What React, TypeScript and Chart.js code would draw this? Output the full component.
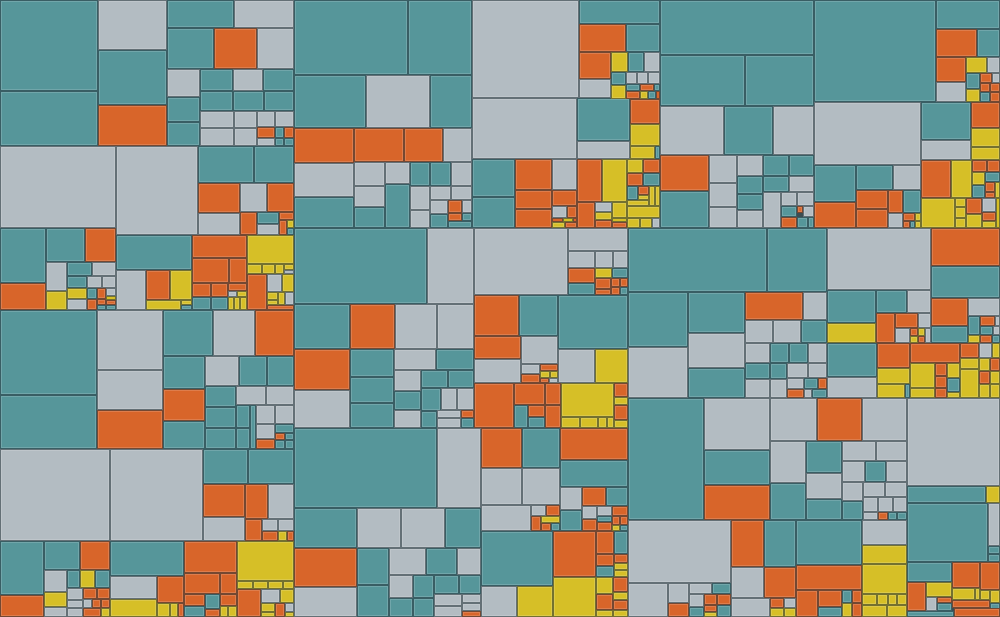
import { useEffect, useRef } from "react";
import { Chart, registerables } from "chart.js";

Chart.register(...registerables);

// colour index: 0 teal, 1 grey, 2 orange, 3 yellow
const T = 0, G = 1, O = 2, Y = 3;
const CATEGORY_NAMES = ["Teal", "Grey", "Orange", "Yellow"];
const PALETTE = ["#56969A", "#B3BCC2", "#D8652A", "#D6BF27"];

// cells: [x0, y0, x1, y1, colour] in data units (0..1000 × 0..617)
const leftColumnCells: number[][] = [
  [0,0,98,91,T],[0,91,98,146,T],[98,0,167,50,G],[98,50,167,105,T],[98,105,167,146,O],
  [167,0,234,28,T],[234,0,294,28,G],[167,28,214,69,T],[214,28,257,69,O],[257,28,294,69,G],
  [167,69,200,97,G],[167,97,200,122,T],[167,122,200,146,T],[200,69,233,91,T],[233,69,263,91,G],
  [263,69,294,91,T],[200,91,233,111,T],[233,91,264,111,T],[264,91,294,111,T],[200,111,234,128,G],
  [234,111,257,128,G],[257,111,275,127,G],[275,111,294,127,G],[200,128,234,146,G],[234,128,257,146,G],
  [257,127,275,138,O],[257,138,275,146,G],[275,127,284,138,T],[275,138,284,146,T],[284,127,294,138,O],
  [284,138,294,146,T],
  [0,146,116,228,G],[116,146,198,235,G],[198,146,254,183,T],[254,146,294,183,T],
  [198,183,240,213,O],[240,183,267,212,G],[267,183,294,212,O],
  [198,213,240,235,G],[240,212,257,235,O],[257,212,279,224,T],[257,224,279,235,G],
  [279,212,294,220,O],[279,220,287,235,O],[287,220,294,228,Y],[287,228,294,235,T],
  [0,228,46,283,T],[46,228,85,262,T],[85,228,116,262,O],[0,283,46,310,O],[46,262,67,291,G],
  [46,291,67,310,Y],[67,262,92,276,T],[92,262,116,276,G],[67,276,87,288,T],[87,276,102,288,G],
  [102,276,116,288,G],[67,288,87,299,Y],[67,299,87,310,G],[87,288,97,299,T],[97,288,106,299,O],
  [106,288,116,296,G],[106,296,116,300,Y],[106,300,116,305,O],[106,305,116,310,T],[87,299,97,310,O],
  [97,299,106,305,O],[97,305,106,310,T],
  [116,235,192,270,T],[192,235,247,258,O],[192,258,229,283,O],[229,258,247,283,O],
  [116,270,146,310,G],[146,270,170,300,O],[170,270,192,300,Y],[146,300,181,310,Y],
  [181,300,192,305,Y],[181,305,192,310,T],[192,283,211,297,O],[211,283,228,297,O],
  [228,283,247,291,O],[228,291,237,297,G],[237,291,247,297,Y],[192,297,211,310,T],
  [211,297,228,310,T],[228,297,234,310,Y],[234,297,240,310,Y],[240,297,247,310,Y],
  [247,235,294,264,Y],[247,264,262,274,Y],[262,264,275,274,Y],[275,264,284,274,Y],
  [284,264,294,270,Y],[284,270,294,274,G],[247,274,267,310,O],[267,274,282,292,G],
  [282,274,294,292,Y],[267,292,278,300,Y],[267,300,278,305,Y],[278,292,285,305,Y],
  [285,292,294,305,G],[267,305,294,310,O],
  [0,310,97,395,T],[0,395,97,449,T],[97,310,163,370,G],[97,370,163,410,G],[97,410,163,449,O],
  [163,310,213,356,T],[213,310,255,356,G],[255,310,294,356,O],[163,356,205,389,T],
  [205,356,239,386,G],[239,356,267,386,T],[267,356,294,386,T],[163,389,205,421,O],
  [163,421,205,449,T],[205,386,236,407,T],[236,386,266,405,G],[266,386,294,405,G],
  [205,407,236,428,T],[236,405,250,428,T],[205,428,236,449,T],[236,428,250,449,T],
  [250,405,256,449,T],[256,405,275,424,G],[275,405,294,424,G],[256,424,275,439,G],
  [275,424,294,433,T],[275,433,285,440,O],[285,433,294,440,T],[256,439,275,449,O],
  [275,440,285,449,T],[285,440,294,449,T],
  [0,449,110,541,G],[110,449,203,541,G],[203,449,248,484,T],[248,449,294,484,T],
  [203,484,245,517,O],[245,484,268,519,O],[268,484,294,519,G],[203,517,245,541,G],
  [245,519,262,541,O],[262,519,278,531,G],[278,519,294,531,G],[262,531,278,541,O],
  [278,531,287,541,Y],[287,531,294,541,O],
  [0,541,44,595,T],[0,595,44,617,O],[44,541,80,570,T],[80,541,110,570,O],[44,570,67,592,G],
  [67,570,80,588,T],[80,570,95,588,Y],[95,570,110,588,T],[44,592,67,607,Y],[44,607,67,617,G],
  [67,588,83,600,G],[67,600,83,608,G],[67,608,83,617,G],[83,588,97,599,O],[97,588,110,599,O],
  [83,599,92,608,G],[92,599,101,608,O],[101,599,110,608,O],[83,608,101,617,O],[101,608,110,617,Y],
  [110,541,184,576,T],[110,576,157,599,G],[157,576,184,603,O],[110,599,157,617,Y],
  [157,603,170,617,Y],[170,603,178,617,Y],[178,603,184,617,O],[184,541,237,573,O],
  [237,541,294,581,Y],[184,573,220,594,O],[220,573,237,594,O],[184,594,205,606,O],
  [205,594,220,609,T],[220,594,237,606,O],[184,606,205,617,T],[205,609,220,617,O],
  [220,606,228,617,Y],[228,606,237,617,Y],[237,581,253,589,Y],[253,581,268,589,Y],
  [268,581,283,589,Y],[283,581,294,589,Y],[237,589,261,617,O],[261,589,280,603,G],
  [280,589,294,603,Y],[261,603,275,612,Y],[261,612,275,617,Y],[275,603,285,617,O],
  [285,603,294,612,G],[285,612,294,617,Y],
];

const topBandCells: number[][] = [
  [294,0,408,75,T],[408,0,472,75,T],[294,75,366,128,T],[366,75,430,128,G],[430,75,472,128,T],
  [294,128,354,163,O],[354,128,404,162,O],[404,128,443,162,O],[443,128,472,162,G],
  [294,163,354,197,G],[294,197,354,228,T],[354,162,385,186,G],[385,162,410,184,G],
  [410,162,430,186,T],[430,162,451,186,T],[451,162,472,186,G],[354,186,385,207,G],
  [354,207,385,228,T],[385,184,410,228,T],[410,186,430,210,G],[410,210,430,228,G],
  [430,186,451,200,G],[451,186,472,200,G],[430,200,448,214,G],[430,214,448,228,T],
  [448,200,462,213,O],[462,200,472,213,G],[448,213,462,221,O],[462,213,472,221,T],
  [448,221,472,228,T],
  [472,0,579,98,G],[472,98,577,159,G],[472,159,515,197,T],[472,197,515,228,T],
  [515,159,552,190,O],[552,159,577,190,G],[515,190,552,209,O],[515,209,552,228,O],
  [552,190,577,206,O],[552,206,567,218,G],[567,206,577,218,O],[552,218,563,222,O],
  [563,218,573,222,Y],[573,218,577,222,O],[552,222,565,228,Y],[565,222,577,228,O],
  [577,159,602,202,O],[602,159,627,202,Y],[577,202,595,228,O],[595,202,612,212,G],
  [595,212,612,220,Y],[595,220,612,228,O],[612,202,627,218,Y],[612,218,627,222,Y],
  [612,222,627,228,O],[627,159,643,173,Y],[643,159,660,173,O],[627,173,643,186,O],
  [643,173,660,186,T],[627,186,638,200,T],[638,186,649,195,O],[638,195,649,200,Y],
  [649,186,655,206,Y],[655,186,660,206,Y],[627,200,649,206,Y],[627,206,660,218,Y],
  [627,218,640,228,Y],[640,218,652,228,Y],[652,218,660,228,G],
  [579,0,660,24,T],[579,24,626,52,O],[626,24,660,52,T],[579,52,611,79,O],[579,79,611,98,G],
  [611,52,628,72,Y],[628,52,644,72,T],[644,52,660,72,G],[611,72,626,85,T],[626,72,637,84,G],
  [637,72,648,84,G],[648,72,660,84,G],[611,85,626,99,Y],[626,84,640,91,T],[640,84,654,91,O],
  [654,84,660,91,T],[626,91,640,99,O],[640,91,648,99,Y],[648,91,656,99,T],[656,91,660,99,O],
  [577,98,630,141,T],[577,141,630,159,G],[630,99,660,124,O],[630,124,660,146,Y],
  [630,146,655,159,Y],[655,146,660,159,T],
];

const topRightCells: number[][] = [
  [660,0,814,55,T],[660,55,745,106,T],[745,55,814,106,T],[660,106,724,155,G],[724,106,773,155,T],
  [773,106,814,155,G],[660,155,709,191,O],[660,191,709,228,T],[709,155,737,183,G],
  [709,183,737,207,G],[709,207,737,228,G],[737,155,763,176,G],[763,155,789,176,T],
  [789,155,814,176,T],[737,176,763,194,T],[763,176,789,192,T],[789,176,814,192,G],
  [737,194,763,210,T],[737,210,763,228,G],[763,192,781,228,G],[781,192,797,206,G],
  [797,192,814,206,G],[781,206,797,217,T],[781,217,797,228,O],[797,206,803,213,O],
  [803,206,814,217,G],[797,217,808,228,T],[808,217,814,228,T],
  [814,0,936,102,T],[936,0,1000,29,T],[936,29,977,57,O],[977,29,1000,57,T],[936,57,966,82,O],
  [936,82,966,102,G],[966,57,987,73,Y],[987,57,1000,73,G],[966,73,980,89,T],[980,73,992,83,O],
  [992,73,1000,83,G],[966,89,980,102,Y],[980,83,990,92,O],[990,83,1000,92,O],[980,92,990,102,T],
  [990,92,1000,102,O],
  [814,102,921,165,G],[921,102,971,140,T],[921,140,971,160,G],[971,102,1000,128,O],
  [971,128,1000,147,Y],[971,147,1000,160,Y],[921,160,951,198,O],[951,160,972,198,Y],
  [972,160,987,172,O],[987,160,1000,172,O],[972,172,985,185,Y],[985,172,1000,182,T],
  [972,185,985,198,T],[985,182,995,192,O],[995,182,1000,198,Y],[985,192,995,198,O],
  [921,198,955,228,Y],[955,198,966,207,Y],[955,207,966,218,Y],[955,218,966,228,Y],
  [966,198,982,214,O],[966,214,982,228,Y],[982,198,996,212,G],[982,212,996,221,O],
  [982,221,996,228,Y],[996,198,1000,228,Y],
  [814,165,856,202,T],[814,202,856,228,O],[856,165,893,190,T],[893,165,921,190,G],
  [856,190,888,209,O],[856,209,888,228,O],[888,190,903,213,O],[888,213,903,228,G],
  [903,190,921,213,T],[903,213,915,221,O],[915,213,921,221,Y],[903,221,910,228,O],
  [910,221,915,228,T],[915,221,921,228,Y],
];

const centerCells: number[][] = [
  [294,228,427,304,T],[427,228,474,304,G],[474,228,568,295,G],[568,228,628,251,G],
  [568,251,595,268,G],[595,251,613,268,G],[613,251,628,268,G],[568,268,595,283,O],
  [595,268,612,278,Y],[612,268,628,278,T],[568,283,595,295,T],[595,278,611,289,O],
  [611,278,620,287,O],[620,278,628,287,O],[595,289,611,295,O],[611,287,620,295,O],
  [620,287,628,295,T],
  [474,295,519,336,O],[519,295,558,336,T],[558,295,628,349,T],[474,336,521,359,O],
  [521,336,558,364,G],[474,359,521,383,G],[521,364,540,374,G],[540,364,558,371,O],
  [540,371,550,378,Y],[550,371,558,378,Y],[521,374,540,383,O],[540,378,549,383,O],
  [549,378,558,383,G],[558,349,595,383,G],[595,349,628,383,Y],
  [474,383,514,428,O],[514,383,545,405,O],[545,383,561,405,O],[514,405,528,428,T],
  [528,405,545,417,O],[528,417,545,428,T],[545,405,561,428,O],[561,383,614,417,Y],
  [561,417,580,428,Y],[580,417,598,428,Y],[598,417,607,428,Y],[607,417,614,428,Y],
  [614,383,628,397,O],[614,397,628,405,Y],[614,405,628,420,O],[614,420,628,428,Y],
  [294,304,350,349,T],[350,304,395,349,O],[395,304,437,349,G],[437,304,474,349,G],
  [294,349,350,390,O],[294,390,350,428,G],[350,349,394,377,T],[350,377,394,403,T],
  [350,403,394,428,T],[394,349,436,370,G],[436,349,474,370,T],[394,370,421,391,G],
  [421,370,448,388,T],[448,370,474,388,T],[394,391,421,410,T],[394,410,421,428,G],
  [421,388,441,411,T],[421,411,437,428,T],[441,388,457,410,G],[457,388,474,410,G],
  [437,410,461,418,G],[437,418,461,428,G],[461,410,474,418,O],[461,418,474,428,T],
  [294,428,437,508,T],[437,428,481,508,G],[481,428,522,468,O],[522,428,560,468,T],
  [560,428,628,460,O],[560,460,628,487,T],[481,468,522,505,G],[522,468,560,505,G],
  [560,487,582,510,G],[582,487,606,506,O],[606,487,628,506,T],[481,505,531,531,G],
  [531,505,546,516,G],[546,505,560,516,O],[531,516,541,531,O],[541,516,560,523,Y],
  [541,523,551,531,O],[551,523,560,531,T],[560,510,582,531,T],[582,506,597,519,G],
  [597,506,612,516,G],[612,506,628,516,O],[597,516,612,522,T],[582,519,597,531,O],
  [597,522,612,531,O],[612,516,620,525,O],[620,516,628,525,O],[612,525,620,531,Y],
  [620,525,628,531,T],
  [481,531,553,586,T],[553,531,596,577,O],[596,531,614,554,O],[614,531,628,554,T],
  [596,554,614,566,O],[614,554,628,563,O],[596,566,614,577,T],[614,563,628,570,Y],
  [614,570,628,577,Y],[481,586,517,617,G],[517,586,553,617,Y],[553,577,596,617,Y],
  [596,577,613,594,Y],[596,594,613,610,O],[596,610,613,617,Y],[613,577,628,592,O],
  [613,592,628,600,Y],[613,600,628,610,O],[613,610,628,617,Y],
  [294,508,357,548,T],[357,508,401,548,G],[401,508,445,548,G],[445,508,481,548,T],
  [294,548,357,587,O],[294,587,357,617,G],[357,548,389,585,T],[357,585,389,617,T],
  [389,548,426,575,G],[426,548,457,575,T],[457,548,481,575,G],[389,575,413,598,G],
  [389,598,413,617,T],[413,575,434,598,T],[413,598,434,617,T],[434,575,459,594,T],
  [459,575,481,594,T],[434,594,462,606,G],[434,606,462,617,G],[462,594,481,603,G],
  [462,603,481,611,G],[462,611,481,617,O],
];

const rightCells: number[][] = [
  [628,228,767,292,T],[767,228,827,292,T],[827,228,931,290,G],[931,228,1000,266,O],
  [931,266,1000,298,T],[628,292,688,347,T],[628,347,688,398,G],[688,292,745,333,T],
  [688,333,745,368,G],[688,368,745,398,T],[745,292,803,320,O],[803,292,827,320,G],
  [745,320,773,343,G],[773,320,801,343,G],[801,320,827,343,T],[745,343,770,363,G],
  [770,343,789,363,T],[789,343,808,363,T],[808,343,827,363,G],[745,363,770,379,T],
  [770,363,787,379,T],[787,363,808,378,G],[808,363,827,378,G],[745,379,770,398,G],
  [770,379,787,398,G],[787,378,804,389,G],[804,378,818,389,T],[818,378,827,389,O],
  [787,389,804,398,O],[804,389,812,398,G],[812,389,827,398,T],
  [827,290,876,323,T],[876,290,907,313,T],[907,290,931,313,G],[827,323,876,343,Y],
  [876,313,895,343,O],[895,313,918,328,O],[918,313,931,328,G],[895,328,910,343,G],
  [910,328,918,336,O],[918,328,925,336,Y],[925,328,931,343,G],[910,336,918,343,Y],
  [918,336,925,343,O],[931,298,968,326,O],[968,298,1000,316,G],[931,326,968,343,T],
  [968,316,980,335,T],[980,316,995,326,O],[995,316,1000,326,G],[980,326,993,335,T],
  [993,326,1000,335,G],[968,335,980,343,Y],[980,335,992,343,O],[992,335,1000,343,T],
  [827,343,877,377,T],[827,377,877,398,G],[877,343,910,368,O],[910,343,960,363,O],
  [960,343,979,358,O],[979,343,992,358,G],[992,343,1000,358,Y],[877,368,910,384,Y],
  [877,384,905,398,Y],[905,384,910,398,T],[910,363,935,388,Y],[910,388,935,398,Y],
  [935,363,947,376,O],[947,363,960,378,Y],[935,376,947,388,O],[935,388,947,398,O],
  [947,378,960,392,T],[947,392,960,398,Y],[960,358,979,369,Y],[979,358,990,371,Y],
  [990,358,1000,371,O],[960,369,979,398,Y],[979,371,990,384,O],[990,371,1000,384,Y],
  [979,384,990,398,Y],[990,384,1000,398,Y],
  [628,398,704,520,T],[704,398,770,450,G],[770,398,817,441,G],[817,398,862,441,O],
  [862,398,907,441,G],[907,398,1000,486,G],[704,450,770,485,T],[704,485,770,520,O],
  [770,441,806,483,G],[770,483,806,520,T],[806,441,842,473,T],[806,473,842,499,G],
  [806,499,842,520,T],[842,441,876,461,G],[876,441,907,461,G],[842,461,865,482,G],
  [865,461,886,482,T],[886,461,907,482,G],[842,482,863,501,G],[863,482,885,497,G],
  [885,482,907,497,G],[863,497,878,512,G],[878,497,893,512,G],[893,497,907,512,G],
  [842,501,863,520,T],[863,512,878,520,G],[878,512,888,520,O],[888,512,897,520,T],
  [897,512,907,520,T],[907,486,986,503,T],[986,486,1000,503,Y],[907,503,988,562,T],
  [988,503,1000,546,G],[988,546,1000,554,T],[988,554,1000,562,T],
  [628,520,731,583,G],[731,520,764,567,O],[764,520,796,567,T],[796,520,862,565,T],
  [862,520,907,545,G],[862,545,907,564,Y],[862,564,907,594,Y],[628,583,668,617,G],
  [668,583,689,603,G],[668,603,689,617,O],[689,583,712,594,G],[712,583,731,594,T],
  [689,594,704,607,G],[689,607,704,617,T],[704,594,717,605,O],[717,594,731,605,O],
  [704,605,717,612,O],[704,612,717,617,Y],[717,605,731,617,T],
  [731,567,764,598,G],[731,598,770,617,G],[764,567,796,598,O],[770,598,784,608,O],
  [784,598,796,608,G],[770,608,784,617,Y],[784,608,796,617,Y],[796,565,862,590,O],
  [796,590,818,617,O],[818,590,842,607,O],[818,607,842,617,T],[842,590,852,603,T],
  [852,590,862,603,O],[842,603,852,617,Y],[852,603,862,617,O],[862,594,877,605,Y],
  [877,594,888,605,Y],[888,594,897,605,Y],[897,594,907,605,Y],[862,605,887,617,Y],
  [887,605,907,617,Y],[907,562,952,582,T],[952,562,980,588,O],[980,562,1000,590,O],
  [907,582,926,611,O],[926,582,952,597,Y],[926,597,937,611,G],[937,597,952,603,O],
  [937,603,952,611,T],[952,588,975,600,Y],[975,588,980,600,Y],[980,590,990,600,Y],
  [990,590,1000,603,Y],[952,600,990,608,O],[990,603,1000,610,T],[907,611,954,617,T],
  [954,608,1000,617,O],
];

const ALL_CELLS = [leftColumnCells, topBandCells, topRightCells, centerCells, rightCells];
const LINE_COLOR = "#3c4d52";

const cellPlugin = {
  id: "cellPlugin",
  beforeDraw(chart: any) {
    const { ctx, width, height } = chart;
    ctx.save();
    ctx.fillStyle = LINE_COLOR;
    ctx.fillRect(0, 0, width, height);
    ctx.restore();
  },
  afterDatasetsDraw(chart: any) {
    const xs = chart.scales.x;
    const ys = chart.scales.y;
    const ctx = chart.ctx;
    ctx.save();
    chart.data.datasets.forEach((ds: any) => {
      const color = ds.cellColor;
      ds.data.forEach((p: any) => {
        const l = Math.round(xs.getPixelForValue(p.x0));
        const r = Math.round(xs.getPixelForValue(p.x1));
        const t = Math.round(ys.getPixelForValue(p.y0));
        const b = Math.round(ys.getPixelForValue(p.y1));
        const w = r - l, h = b - t;
        ctx.fillStyle = color;
        ctx.fillRect(l, t, w, h);
        ctx.lineWidth = 1;
        ctx.strokeStyle = "rgba(35,50,56,0.55)";
        ctx.strokeRect(l + 0.5, t + 0.5, w - 1, h - 1);
        if (w > 4 && h > 4) {
          ctx.strokeStyle = "rgba(255,255,255,0.16)";
          ctx.strokeRect(l + 1.5, t + 1.5, w - 3, h - 3);
        }
      });
    });
    ctx.restore();
  },
};

export default function App() {
  const canvasRef = useRef<HTMLCanvasElement | null>(null);

  useEffect(() => {
    document.body.style.margin = "0";
    const canvas = canvasRef.current;
    if (!canvas) return;
    const datasets = PALETTE.map((color, ci) => {
      const data: any[] = [];
      ALL_CELLS.forEach((group) =>
        group.forEach(([x0, y0, x1, y1, c]) => {
          if (c === ci) data.push({ x: (x0 + x1) / 2, y: (y0 + y1) / 2, x0, y0, x1, y1 });
        })
      );
      return {
        type: "scatter" as const,
        label: CATEGORY_NAMES[ci],
        data,
        cellColor: color,
        backgroundColor: color,
        pointRadius: 0,
        pointHoverRadius: 0,
        showLine: false,
      };
    });
    const chart = new Chart(canvas, {
      type: "scatter",
      data: { datasets } as any,
      options: {
        animation: false,
        responsive: false,
        maintainAspectRatio: false,
        devicePixelRatio: 1,
        layout: { padding: 0 },
        events: [],
        plugins: { legend: { display: false }, tooltip: { enabled: false }, title: { display: false } },
        scales: {
          x: { type: "linear", min: 0, max: 1000, display: false },
          y: { type: "linear", min: 0, max: 617, reverse: true, display: false },
        },
      },
      plugins: [cellPlugin],
    });
    return () => chart.destroy();
  }, []);

  return (
    <div style={{ width: 1000, height: 617, position: "relative" }}>
      <canvas ref={canvasRef} width={1000} height={617} style={{ display: "block" }} />
    </div>
  );
}
